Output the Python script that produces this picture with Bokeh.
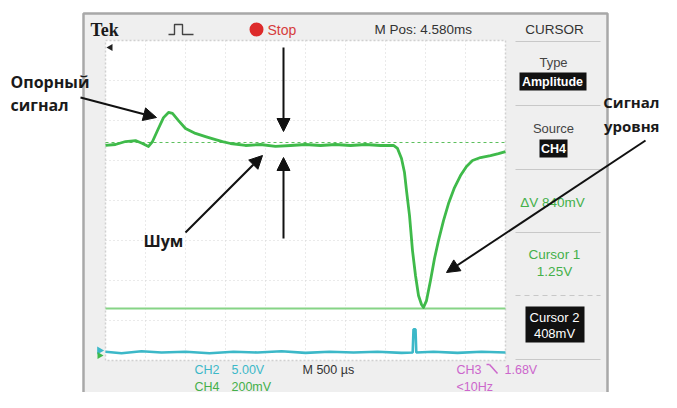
from bokeh.plotting import figure
from bokeh.models import Range1d, Label, Arrow, NormalHead
from bokeh.embed import file_html
from bokeh.resources import INLINE

# ---------------- data ----------------
# CH4 (green) trace: time in ms (M 500 us/div), voltage in V (200 mV/div)
ch4_t = [0.0, 0.125, 0.25, 0.375, 0.4625, 0.5375, 0.5875, 0.65, 0.725, 0.7875,
         0.8375, 0.9125, 1.0, 1.125, 1.25, 1.375, 1.4625, 1.5625, 1.75, 1.9375,
         2.125, 2.3125, 2.5, 2.6875, 2.875, 3.0625, 3.25, 3.4375, 3.6, 3.65,
         3.7, 3.7375, 3.7625, 3.8, 3.8375, 3.875, 3.9125, 3.95, 3.975, 4.0125,
         4.0625, 4.1125, 4.1625, 4.225, 4.2875, 4.3625, 4.4375, 4.5125, 4.5875,
         4.6875, 4.8125, 4.9125, 5.0]
ch4_v = [1.233, 1.238, 1.253, 1.258, 1.243, 1.228, 1.253, 1.309, 1.374, 1.400,
         1.395, 1.359, 1.319, 1.294, 1.278, 1.263, 1.253, 1.243, 1.233, 1.238,
         1.228, 1.233, 1.238, 1.233, 1.238, 1.233, 1.238, 1.233, 1.233, 1.218,
         1.167, 1.096, 1.005, 0.879, 0.701, 0.575, 0.474, 0.428, 0.413, 0.448,
         0.550, 0.661, 0.752, 0.853, 0.939, 1.020, 1.081, 1.127, 1.157,
         1.172, 1.182, 1.192, 1.202]

# CH2 (cyan) trace: time in ms, voltage in V (5 V/div)
ch2_t = [0.0, 0.2, 0.45, 0.7, 1.0, 1.3, 1.6, 1.9, 2.2, 2.5, 2.8, 3.1, 3.4,
         3.7, 3.84, 3.85, 3.875, 3.885, 4.1, 4.4, 4.7, 5.0]
ch2_v = [0.1, -0.1, 0.15, 0.0, 0.1, -0.1, 0.1, 0.0, 0.15, -0.05, 0.1, 0.0, 0.1,
         -0.05, 0.0, 2.9, 2.9, 0.0, 0.1, -0.05, 0.1, 0.0]

# amplitude cursors (V)
cursor_levels = [1.248, 0.408]

# ---------------- layout helpers (picture pixel -> data) ----------------
W, H = 661, 392


def X(px):
    return (px - 105) / 80.0


def Y(py):
    return 0.408 + (308 - py) / 197.6


def Y2(py):
    return (352 - py) / 8.0


p = figure(width=W, height=H, output_backend="svg", toolbar_location=None,
           x_range=Range1d(X(0), X(W)), y_range=Range1d(Y(H), Y(0)),
           x_axis_type=None, y_axis_type=None, min_border=0)
p.extra_y_ranges = {"ch2": Range1d(Y2(H), Y2(0))}
p.grid.visible = False
p.outline_line_color = None
p.background_fill_color = "white"
p.border_fill_color = "white"

SCOPE = "Liberation Sans"
RUS = "Open Sans"


def rect(x0, x1, y0, y1, color):
    p.quad(left=X(x0), right=X(x1), top=Y(y0), bottom=Y(y1),
           fill_color=color, line_color=None)


def seg(xs, ys, color, width=1.0, dash="solid"):
    p.line([X(v) for v in xs], [Y(v) for v in ys], line_color=color,
           line_width=width, line_dash=dash)


def lab(px, py, text, size, color, font=SCOPE, align="left", weight="normal"):
    p.add_layout(Label(x=X(px), y=Y(py), text=text, text_font=font,
                       text_font_size=f"{size}px", text_color=color,
                       text_align=align, text_baseline="middle",
                       text_font_style=weight))


# scope body
rect(83, 607, 13, 410, "#efefef")
rect(105, 505, 40, 360, "#ffffff")
seg([83, 83, 607, 607], [410, 13, 13, 410], "#a8a8a8", 2.5)

# graticule
gx = [145, 185, 225, 265, 305, 345, 385, 425, 465]
gy = [80, 120, 160, 200, 240, 280, 320]
p.multi_line([[X(v), X(v)] for v in gx], [[Y(40), Y(360)] for v in gx],
             line_color="#d4d4d4", line_width=1, line_dash="1 3")
p.multi_line([[X(105), X(505)] for v in gy], [[Y(v), Y(v)] for v in gy],
             line_color="#d4d4d4", line_width=1, line_dash="1 3")
seg([105, 505, 505, 105, 105], [40, 40, 360, 360, 40], "#d0d0d0", 1.5, "2 2")

# cursors
p.line([X(105), X(505)], [cursor_levels[0]] * 2, line_color="#5cbf5c",
       line_width=1.2, line_dash="3 3")
p.line([X(105), X(505)], [cursor_levels[1]] * 2, line_color="#86d486",
       line_width=2.2)

# traces
p.line(ch2_t, ch2_v, y_range_name="ch2", line_color="#3cb8c8", line_width=2.6)
p.line(ch4_t, ch4_v, line_color="#3fba4a", line_width=2.8, line_join="round")

# ground markers / trigger marker
p.scatter([X(99)], [Y(350)], marker="triangle", angle=-1.5708, size=8,
          fill_color="#3cb8c8", line_color=None)
p.scatter([X(99)], [Y(355)], marker="triangle", angle=-1.5708, size=7,
          fill_color="#3fba4a", line_color=None)
p.scatter([X(110)], [Y(47)], marker="triangle", angle=1.5708, size=7,
          fill_color="#222222", line_color=None)

# header
lab(90, 29, "Tek", 18, "#1a1a1a", font="Liberation Serif", weight="bold")
seg([168, 174, 174, 182, 182, 193], [34, 34, 24, 24, 34, 34], "#444444", 1.4)
p.scatter([X(256)], [Y(29)], marker="circle", size=14, fill_color="#dd2a2a",
          line_color=None)
lab(267, 29, "Stop", 14, "#d63c3c")
lab(374, 29, "M Pos: 4.580ms", 13.5, "#333333")
lab(554, 29, "CURSOR", 13.5, "#333333", align="center")
seg([515, 600], [41, 41], "#c8c8c8", 1.2)

# side menu
lab(553, 62, "Type", 13, "#444444", align="center")
rect(519, 586, 72, 90, "#111111")
lab(552, 81, "Amplitude", 12.5, "#ffffff", align="center", weight="bold")
seg([515, 600], [105, 105], "#c8c8c8", 1.2)
lab(553, 128, "Source", 13, "#444444", align="center")
rect(539, 567, 139, 157, "#111111")
lab(553, 148, "CH4", 12.5, "#ffffff", align="center", weight="bold")
seg([515, 600], [169, 169], "#c8c8c8", 1.2)
lab(552, 202, "\u0394V 840mV", 13.5, "#44b04a", align="center")
seg([515, 600], [232, 232], "#c8c8c8", 1.2)
lab(554, 254, "Cursor 1", 13.5, "#44b04a", align="center")
lab(554, 271, "1.25V", 13.5, "#44b04a", align="center")
seg([515, 600], [295, 295], "#c8c8c8", 1.2, "5 4")
rect(525, 584, 306, 342, "#111111")
lab(554, 317, "Cursor 2", 13, "#ffffff", align="center")
lab(554, 333, "408mV", 13, "#ffffff", align="center")
seg([515, 600], [359, 359], "#c8c8c8", 1.2)

# bottom readouts
lab(194, 369, "CH2", 12.5, "#3cb8c8")
lab(231, 369, "5.00V", 12.5, "#3cb8c8")
lab(194, 386, "CH4", 12.5, "#44b04a")
lab(231, 386, "200mV", 12.5, "#44b04a")
lab(302, 369, "M 500 \u00b5s", 12.5, "#333333")
lab(456, 369, "CH3", 12.5, "#cc66cc")
seg([489, 497], [364, 373], "#cc66cc", 1.5)
seg([486, 489], [364, 364], "#cc66cc", 1.5)
lab(504, 369, "1.68V", 12.5, "#cc66cc")
lab(456, 386, "<10Hz", 12.5, "#cc66cc")

# annotations
lab(10, 81, "Опорный", 16, "#1a1a1a", font=RUS, weight="bold")
lab(10, 104, "сигнал", 16, "#1a1a1a", font=RUS, weight="bold")
lab(143, 240, "Шум", 16, "#1a1a1a", font=RUS, weight="bold")
lab(659, 101, "Сигнал", 15, "#1a1a1a", font=RUS, weight="bold", align="right")
lab(659, 125, "уровня", 15, "#1a1a1a", font=RUS, weight="bold", align="right")

arrows = [((80, 97), (156, 117)), ((185, 232), (262, 155)),
          ((283, 47), (283, 131)), ((283, 238), (283, 157)),
          ((645, 140), (446, 272))]
for (x0, y0), (x1, y1) in arrows:
    p.add_layout(Arrow(end=NormalHead(size=13, fill_color="#111111",
                                      line_color="#111111"),
                       x_start=X(x0), y_start=Y(y0), x_end=X(x1), y_end=Y(y1),
                       line_color="#111111", line_width=2))

open("out.html", "w").write(file_html(p, INLINE))
